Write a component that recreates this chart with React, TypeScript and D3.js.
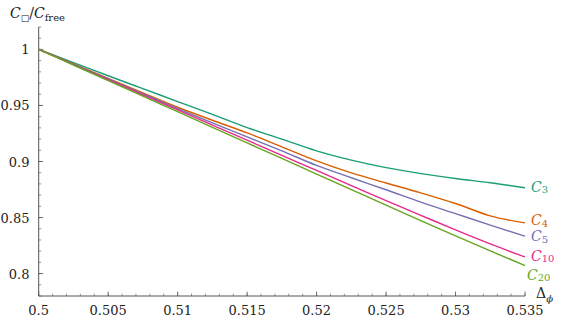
import React from "react";
import * as d3 from "d3";

// sampled Delta_phi values
const deltaPhi = [
  0.5, 0.5025, 0.505, 0.5075, 0.51, 0.5125, 0.515, 0.5175, 0.52, 0.5225,
  0.525, 0.5275, 0.53, 0.5325, 0.535,
];

const c3 = [
  1, 0.9883, 0.9765, 0.965, 0.9535, 0.942, 0.9303, 0.92, 0.9095, 0.9012,
  0.8945, 0.8892, 0.8848, 0.881, 0.8766,
];
const c4 = [
  1, 0.9871, 0.9742, 0.9613, 0.9484, 0.9368, 0.9255, 0.913, 0.9005, 0.8898,
  0.8808, 0.872, 0.8625, 0.8515, 0.8452,
];
const c5 = [
  1, 0.9868, 0.9736, 0.9604, 0.9472, 0.9345, 0.922, 0.9095, 0.8965, 0.8855,
  0.8748, 0.8638, 0.8535, 0.8432, 0.8333,
];
const c10 = [
  1, 0.9865, 0.973, 0.9595, 0.946, 0.9325, 0.919, 0.9055, 0.892, 0.8785,
  0.865, 0.852, 0.839, 0.8265, 0.8148,
];
const c20 = [
  1, 0.9861, 0.9722, 0.9583, 0.9444, 0.9305, 0.9166, 0.9027, 0.8888, 0.8749,
  0.861, 0.8472, 0.8336, 0.8202, 0.8072,
];

const seriesNames = ["3", "4", "5", "10", "20"];
const seriesValues = [c3, c4, c5, c10, c20];
const seriesColors = ["#1b9e77", "#d95f02", "#7570b3", "#e7298a", "#66a61e"];
// label nudges (px) so the end labels don't collide
const labelDx = [6, 6, 6, 6, 2];
const labelDy = [0, -1.5, 1, 0, 10];

const xTicks = [0.5, 0.505, 0.51, 0.515, 0.52, 0.525, 0.53, 0.535];
const xTickLabels = ["0.5", "0.505", "0.51", "0.515", "0.52", "0.525", "0.53", "0.535"];
const yTicks = [0.8, 0.85, 0.9, 0.95, 1];
const yTickLabels = ["0.8", "0.85", "0.9", "0.95", "1"];

const W = 564;
const H = 321;
const FONT = "'DejaVu Serif', 'Liberation Serif', serif";
const AXIS = "#555";

const App = () => {
  const x = d3.scaleLinear().domain([0.5, 0.535]).range([38.7, 525]);
  const y = d3.scaleLinear().domain([0.78, 1.02]).range([296, 27]);

  const line = d3
    .line<[number, number]>()
    .x((d) => x(d[0]))
    .y((d) => y(d[1]))
    .curve(d3.curveMonotoneX);

  const xMinor = d3.range(0, 36).map((i) => 0.5 + i * 0.001);
  const yMinor = d3.range(0, 25).map((i) => 0.78 + i * 0.01);

  return (
    <svg
      width={W}
      height={H}
      style={{ position: "absolute", left: 0, top: 0, background: "#fff", fontFamily: FONT }}
    >
      {/* axes */}
      <line x1={x(0.5)} x2={x(0.535)} y1={y(0.78)} y2={y(0.78)} stroke={AXIS} strokeWidth={1} />
      <line x1={x(0.5)} x2={x(0.5)} y1={y(0.78)} y2={y(1.02)} stroke={AXIS} strokeWidth={1} />

      {xMinor.map((v, i) => (
        <line key={"xm" + i} x1={x(v)} x2={x(v)} y1={y(0.78)} y2={y(0.78) - 2.5} stroke={AXIS} strokeWidth={0.6} />
      ))}
      {xTicks.map((v, i) => (
        <g key={"xt" + i}>
          <line x1={x(v)} x2={x(v)} y1={y(0.78)} y2={y(0.78) - 4.5} stroke={AXIS} strokeWidth={0.8} />
          <text x={x(v)} y={315} textAnchor="middle" fontSize={13} fill="#222">
            {xTickLabels[i]}
          </text>
        </g>
      ))}

      {yMinor.map((v, i) => (
        <line key={"ym" + i} x1={x(0.5)} x2={x(0.5) + 2.5} y1={y(v)} y2={y(v)} stroke={AXIS} strokeWidth={0.6} />
      ))}
      {yTicks.map((v, i) => (
        <g key={"yt" + i}>
          <line x1={x(0.5)} x2={x(0.5) + 4.5} y1={y(v)} y2={y(v)} stroke={AXIS} strokeWidth={0.8} />
          <text x={29.5} y={y(v) + 5} textAnchor="end" fontSize={13} fill="#222">
            {yTickLabels[i]}
          </text>
        </g>
      ))}

      {/* curves */}
      {seriesValues.map((vals, i) => (
        <path
          key={"s" + i}
          d={line(deltaPhi.map((d, j) => [d, vals[j]] as [number, number])) || ""}
          fill="none"
          stroke={seriesColors[i]}
          strokeWidth={1.4}
        />
      ))}

      {/* end labels */}
      {seriesValues.map((vals, i) => (
        <text
          key={"l" + i}
          x={x(deltaPhi[deltaPhi.length - 1]) + labelDx[i]}
          y={y(vals[vals.length - 1]) + labelDy[i] + 4}
          fontSize={14}
          fill={seriesColors[i]}
        >
          <tspan fontStyle="italic">C</tspan>
          <tspan fontSize={10} dy={1.5}>
            {seriesNames[i]}
          </tspan>
        </text>
      ))}

      {/* axis titles */}
      <text x={10} y={18} fontSize={14} fill="#222">
        <tspan fontStyle="italic">C</tspan>
        <tspan fontSize={9} dy={3} fontFamily="'DejaVu Sans', sans-serif">□</tspan>
        <tspan dy={-3}>/</tspan>
        <tspan fontStyle="italic">C</tspan>
        <tspan fontSize={10} dy={3}>free</tspan>
      </text>
      <text x={536} y={298} fontSize={14} fill="#222">
        <tspan>Δ</tspan>
        <tspan fontSize={10} dy={4} fontStyle="italic">ϕ</tspan>
      </text>
    </svg>
  );
};

export default App;
